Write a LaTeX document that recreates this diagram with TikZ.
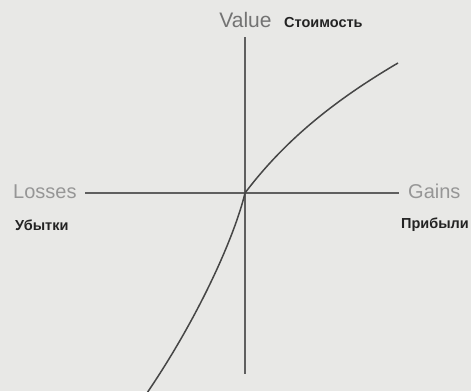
\documentclass[tikz,border=0pt]{standalone}
\usepackage{fontspec}
\setmainfont{Liberation Sans}
\definecolor{bgc}{RGB}{232,232,230}
\definecolor{axc}{RGB}{95,95,95}
\definecolor{crv}{RGB}{70,70,70}
\definecolor{lblA}{RGB}{115,115,115}
\definecolor{lblB}{RGB}{150,150,150}
\definecolor{lblC}{RGB}{35,35,35}
\tikzset{
  axisline/.style={draw=axc, line width=1.4pt},
  curveline/.style={draw=crv, line width=1.5pt},
  enlabel/.style={inner sep=0pt, font=\fontsize{20}{20}\selectfont},
  rulabel/.style={inner sep=0pt, text=lblC, font=\fontsize{14.5}{14.5}\selectfont\bfseries},
}
\begin{document}
\begin{tikzpicture}[x=1pt,y=-1pt]
\fill[bgc] (0,0) rectangle (471,391);
\useasboundingbox (0,0) rectangle (471,391);
\begin{scope}
\clip (0,0) rectangle (471,391);
% axes end points
\coordinate (L) at (85,193);
\coordinate (R) at (399,193);
\coordinate (T) at (245,37);
\coordinate (B) at (245,374);
\coordinate (O) at (245,193);
\coordinate (CT) at (398,63);
\coordinate (CB) at (147,393);
\draw[axisline] (L) -- (R);
\draw[axisline] (T) -- (B);
% value curve
\draw[curveline] (CB) .. controls (200,315) and (235,235) .. (O)
                 .. controls (285,140) and (335,100) .. (CT);
% labels
\node[enlabel, text=lblA, anchor=base, font=\fontsize{21}{21}\selectfont] (value) at (245.5,27) {Value};
\node[rulabel, anchor=base west] (stoim) at (284,27) {Стоимость};
\node[enlabel, text=lblB, anchor=base west] (losses) at (13,198) {Losses};
\node[rulabel, anchor=base west] (ubytki) at (15,230) {Убытки};
\node[enlabel, text=lblB, anchor=base west] (gains) at (408,198) {Gains};
\node[rulabel, anchor=base east] (pribyli) at (469,228) {Прибыли};
\end{scope}
\end{tikzpicture}
\end{document}
